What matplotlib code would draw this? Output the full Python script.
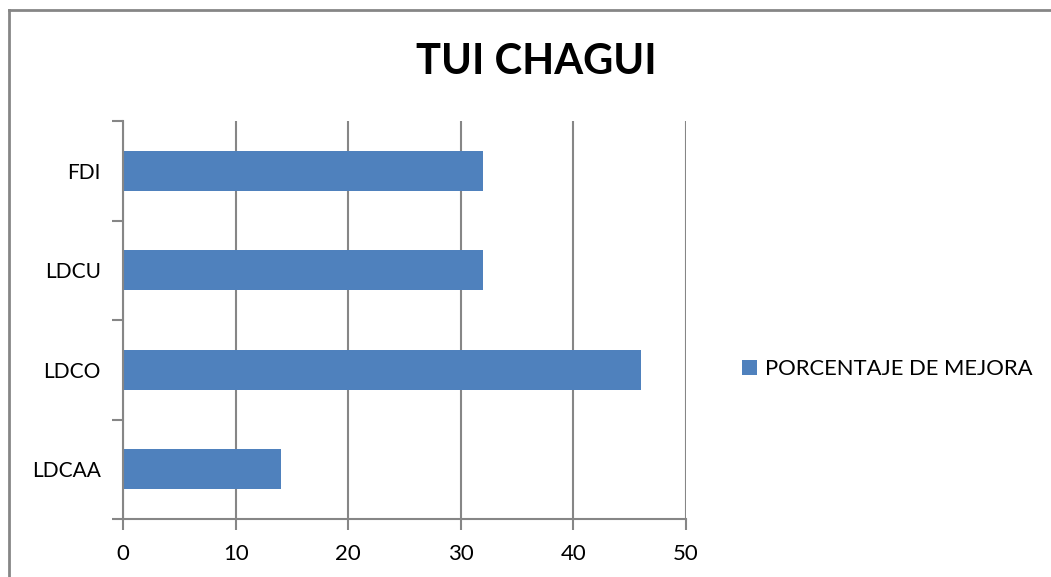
import matplotlib.pyplot as plt
from matplotlib.lines import Line2D

categorias = ['LDCAA', 'LDCO', 'LDCU', 'FDI']
valores = [14, 46, 32, 32]
serie = 'PORCENTAJE DE MEJORA'
titulo = 'TUI CHAGUI'
xticks = [0, 10, 20, 30, 40, 50]

azul = '#4F81BD'
gris = '#868686'

plt.rcParams['font.family'] = ['Lato', 'DejaVu Sans']

fig = plt.figure(figsize=(10.51, 5.77), dpi=100)
ax = fig.add_axes([123 / 1051, 1 - 519 / 577, (686 - 123) / 1051, (519 - 121) / 577])

ax.barh(range(len(categorias)), valores, height=0.4, color=azul, label=serie, zorder=3)

ax.set_xlim(0, 50)
ax.set_ylim(-0.5, len(categorias) - 0.5)
ax.set_xticks(xticks)
ax.set_xticklabels([str(v) for v in xticks], fontsize=16)
ax.set_yticks(range(len(categorias)))
ax.set_yticklabels(categorias, fontsize=15)
ax.set_yticks([i - 0.5 for i in range(len(categorias) + 1)], minor=True)

ax.tick_params(axis='y', which='major', length=0, pad=16)
ax.tick_params(axis='y', which='minor', length=8, width=1.5, color=gris, direction='out')
ax.tick_params(axis='x', length=8, width=1.5, color=gris, direction='out', pad=10)

ax.grid(axis='x', color=gris, linewidth=1.5, zorder=0)
for s in ['top', 'right']:
    ax.spines[s].set_visible(False)
for s in ['left', 'bottom']:
    ax.spines[s].set_color(gris)
    ax.spines[s].set_linewidth(1.5)
    ax.spines[s].set_zorder(4)

fig.text(536 / 1051, 1 - 62 / 577, titulo, fontsize=30, fontweight='bold',
         ha='center', va='center')

fig.legend(loc='center left', bbox_to_anchor=(742 / 1051, 1 - 369 / 577), frameon=False,
           fontsize=15.8, handlelength=0.7, handleheight=0.7, handletextpad=0.35,
           borderpad=0, borderaxespad=0)

# marco del grafico (solo visible arriba y a la izquierda)
fig.add_artist(Line2D([8.5 / 1051, 8.5 / 1051], [0, 1 - 9.5 / 577], color=gris, linewidth=2,
                      transform=fig.transFigure))
fig.add_artist(Line2D([8.5 / 1051, 1], [1 - 9.5 / 577, 1 - 9.5 / 577], color=gris, linewidth=2,
                      transform=fig.transFigure))

fig.savefig('out.png', dpi=100, facecolor='white')
